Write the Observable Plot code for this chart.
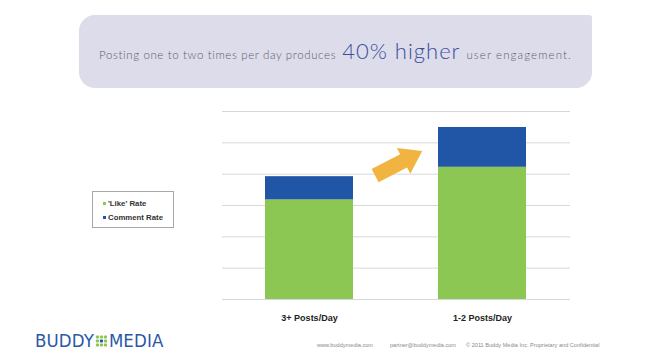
<!DOCTYPE html>
<html>
<head>
<meta charset="utf-8">
<script src="https://cdn.jsdelivr.net/npm/d3@7"></script>
<script src="https://cdn.jsdelivr.net/npm/@observablehq/plot@0.6"></script>
<style>
  html, body { margin: 0; padding: 0; background: #fff; }
  #page { position: relative; width: 652px; height: 362px; overflow: hidden; background: #fff; }
  #chart { position: absolute; left: 0; top: 0; }
  #header { position: absolute; left: 79px; top: 15px; width: 513px; height: 73px;
    background: #dcdcea; border-radius: 16px 3px 16px 16px; }
  #headline { position: absolute; left: 99px; top: 37px; display: flex; align-items: baseline;
    font-family: Lato, "Open Sans", sans-serif; font-weight: 300; color: #5e5e6a; white-space: nowrap; }
  #headline .small { font-size: 11.5px; letter-spacing: 0.62px; }
  #headline .small.end { letter-spacing: 1.1px; }
  #headline .big { font-size: 22px; color: #3a4d9e; letter-spacing: 1px; margin: 0 6px 0 6px; }
  #legend { position: absolute; left: 92px; top: 191px; width: 82px; height: 37px;
    border: 1px solid #a8a8a8; box-sizing: border-box; font-family: "Liberation Sans", Arial, sans-serif;
    font-weight: bold; font-size: 7.8px; color: #333; }
  #legend .item { position: absolute; left: 10px; display: flex; align-items: center; white-space: nowrap; }
  #legend .sw { width: 3px; height: 3px; margin-right: 2px; }
  #logo { position: absolute; left: 35px; top: 331px; display: flex; align-items: center;
    font-family: "Liberation Sans Narrow", "DejaVu Sans Condensed", sans-serif; font-size: 18.5px;
    color: #2b58a6; letter-spacing: 0.1px; line-height: 19px; }
  #logo svg { margin: 0 1px; }
  .foot { position: absolute; top: 342px; font-family: "Liberation Sans", Arial, sans-serif;
    font-size: 5.6px; color: #8a8a8a; white-space: nowrap; }
</style>
</head>
<body>
<div id="page">
  <div id="header"></div>
  <div id="headline"><span class="small">Posting one to two times per day produces</span><span class="big">40% higher</span><span class="small end">user engagement.</span></div>
  <div id="chart"></div>
  <div id="legend"></div>
  <div id="logo"><span>BUDDY</span><svg id="logoIcon" width="13" height="13" viewBox="0 0 14 14"></svg><span>MEDIA</span></div>
  <div class="foot" style="left:317px">www.buddymedia.com</div>
  <div class="foot" style="left:390px">partner@buddymedia.com</div>
  <div class="foot" style="left:466px">© 2011 Buddy Media Inc. Proprietary and Confidential</div>
</div>
<script>
// ---- data ----
const categories = ["3+ Posts/Day", "1-2 Posts/Day"];
const seriesNames = ["'Like' Rate", "Comment Rate"];
const likeRate = [3.18, 4.22];
const commentRate = [0.74, 1.27];
const yTicks = [0, 1, 2, 3, 4, 5, 6];
// annotation arrow (from the first category to the second, in data units)
const arrowFrom = ["3+ Posts/Day"];
const arrowTo = ["1-2 Posts/Day"];
const arrowY1 = [2.86];
const arrowY2 = [5.74];

const colors = ["#8cc653", "#2155a6"];

const rows = [];
categories.forEach((c, i) => {
  rows.push({cat: c, series: seriesNames[0], value: likeRate[i]});
  rows.push({cat: c, series: seriesNames[1], value: commentRate[i]});
});
const arrows = arrowFrom.map((f, i) => ({from: f, to: arrowTo[i], y1: arrowY1[i], y2: arrowY2[i]}));

// custom curve: draws a filled block arrow between the two link end points
function blockArrow(startInset, endInset, sw, hw, hl) {
  return (context) => {
    let pts = [];
    return {
      areaStart() {}, areaEnd() {},
      lineStart() { pts = []; },
      point(x, y) { pts.push([+x, +y]); },
      lineEnd() {
        if (pts.length < 2) return;
        const [x1, y1] = pts[0], [x2, y2] = pts[pts.length - 1];
        const len = Math.hypot(x2 - x1, y2 - y1);
        const ux = (x2 - x1) / len, uy = (y2 - y1) / len;
        const nx = -uy, ny = ux;
        const tx = x1 + ux * startInset, ty = y1 + uy * startInset;
        const px = x2 - ux * endInset, py = y2 - uy * endInset;
        const bx = px - ux * hl, by = py - uy * hl;
        context.moveTo(tx + nx * sw, ty + ny * sw);
        context.lineTo(bx + nx * sw, by + ny * sw);
        context.lineTo(bx + nx * hw, by + ny * hw);
        context.lineTo(px, py);
        context.lineTo(bx - nx * hw, by - ny * hw);
        context.lineTo(bx - nx * sw, by - ny * sw);
        context.lineTo(tx - nx * sw, ty - ny * sw);
        context.closePath();
      }
    };
  };
}

const chart = Plot.plot({
  width: 652,
  height: 362,
  marginLeft: 222,
  marginRight: 82,
  marginTop: 111,
  marginBottom: 63,
  style: {fontFamily: "'Liberation Sans', Arial, sans-serif", fontWeight: "bold", fontSize: "9px", color: "#222", background: "transparent"},
  x: {domain: categories, paddingInner: 0.49, paddingOuter: 0.25, tickSize: 0, tickPadding: 15, label: null},
  y: {domain: [0, 6], axis: null},
  color: {domain: seriesNames, range: colors},
  marks: [
    Plot.ruleY(yTicks, {stroke: "#d8d8d8", strokeWidth: 1}),
    Plot.barY(rows, {x: "cat", y: "value", fill: "series", inset: 0}),
    Plot.link(arrows, {x1: "from", x2: "to", y1: "y1", y2: "y2", fill: "#f2b441", stroke: "none",
      curve: blockArrow(74, 68, 7.5, 14.5, 21)})
  ]
});
document.getElementById("chart").appendChild(chart);

// legend
const legend = document.getElementById("legend");
seriesNames.forEach((s, i) => {
  const item = document.createElement("div");
  item.className = "item";
  item.style.top = (i === 0 ? 7 : 21) + "px";
  const sw = document.createElement("span");
  sw.className = "sw";
  sw.style.background = colors[i];
  const t = document.createElement("span");
  t.textContent = s;
  item.appendChild(sw); item.appendChild(t);
  legend.appendChild(item);
});

// logo icon: 3x3 dot grid
const icon = d3.select("#logoIcon");
for (let r = 0; r < 3; r++) for (let c = 0; c < 3; c++) {
  icon.append("rect").attr("x", 1 + c * 4.3).attr("y", 1.5 + r * 4.3).attr("width", 3.3).attr("height", 3.3)
    .attr("rx", 0.8).attr("fill", (r === 1 && c === 1) ? "#2b58a6" : "#8cc653");
}
</script>
</body>
</html>
